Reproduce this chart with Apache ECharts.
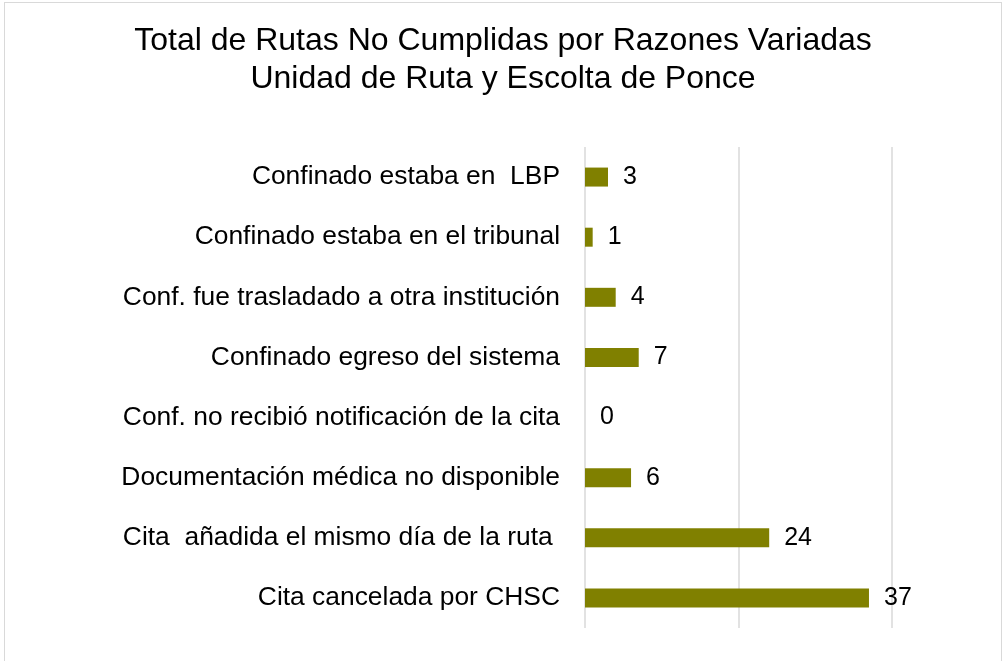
<!DOCTYPE html>
<html>
<head>
<meta charset="utf-8">
<script src="https://cdn.jsdelivr.net/npm/echarts@6/dist/echarts.min.js"></script>
<style>
  html, body { margin: 0; padding: 0; background: #fff; overflow: hidden; }
  #frame { position: absolute; left: 4px; top: 2px; width: 998px; height: 700px; border: 1px solid #d9d9d9; box-sizing: border-box; }
  #chart { position: absolute; left: 0; top: 0; width: 1003px; height: 661px; }
</style>
</head>
<body>
<div id="frame"></div>
<div id="chart"></div>
<script>
// razones, de arriba hacia abajo
const categories = [
  'Confinado estaba en  LBP',
  'Confinado estaba en el tribunal',
  'Conf. fue trasladado a otra institución',
  'Confinado egreso del sistema',
  'Conf. no recibió notificación de la cita',
  'Documentación médica no disponible',
  'Cita  añadida el mismo día de la ruta ',
  'Cita cancelada por CHSC'
]
const values = [3, 1, 4, 7, 0, 6, 24, 37]

const chart = echarts.init(document.getElementById('chart'))

chart.setOption({
  animation: false,
  title: {
    text: 'Total de Rutas No Cumplidas por Razones Variadas\nUnidad de Ruta y Escolta de Ponce',
    left: 498,
    textAlign: 'center',
    top: 17,
    textStyle: {
      color: '#000',
      fontFamily: 'Liberation Sans',
      fontWeight: 'normal',
      fontSize: 32,
      lineHeight: 38
    }
  },
  grid: {
    left: 585,
    right: 111,
    top: 147,
    bottom: 33
  },
  xAxis: {
    type: 'value',
    min: 0,
    max: 40,
    interval: 20,
    axisLabel: { show: false },
    axisLine: { show: false },
    axisTick: { show: false },
    splitLine: { lineStyle: { color: '#d9d9d9', width: 1.5 } }
  },
  yAxis: {
    type: 'category',
    inverse: true,
    data: categories,
    axisLine: { show: false },
    axisTick: { show: false },
    axisLabel: {
      margin: 25,
      color: '#000',
      fontFamily: 'Liberation Sans',
      fontSize: 26.4
    }
  },
  series: [{
    type: 'bar',
    data: values,
    barWidth: 19,
    itemStyle: { color: '#808000' },
    label: {
      show: true,
      position: 'right',
      distance: 15,
      color: '#000',
      fontFamily: 'Liberation Sans',
      fontSize: 25
    }
  }]
})
</script>
</body>
</html>
